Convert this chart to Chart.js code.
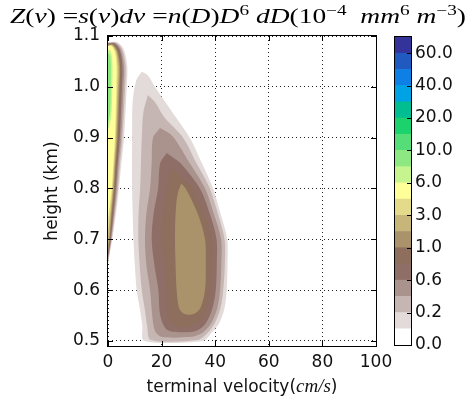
<!DOCTYPE html>
<html>
<head>
<meta charset="utf-8">
<script src="https://cdn.jsdelivr.net/npm/chart.js@4.4.1/dist/chart.umd.min.js"></script>
<style>
html,body{margin:0;padding:0;background:#fff;}
#wrap{position:relative;width:472px;height:399px;}
#wrap canvas{position:absolute;left:0;top:0;}
</style>
</head>
<body>
<div id="wrap">
<canvas id="main" width="472" height="399"></canvas>
<canvas id="cbar" width="472" height="399"></canvas>
</div>
<script>
/* ---- data ---- */

// contour levels (colorbar boundaries)
const levels = [0, 0.1, 0.2, 0.4, 0.6, 0.8, 1, 2, 3, 4, 6, 8, 10, 15, 20, 30, 40, 50, 60, 70];

// one colour per band (terrain_r look)
const bandColors = [
  "#ffffff", "#e3dbd9", "#c6b6b3", "#aa928d", "#8e6e67", "#8e6e5c", "#aa926b",
  "#c6b67a", "#e3db8a", "#ffff99", "#c6f48e", "#8ee882", "#55dd77", "#1cd26c",
  "#00be91", "#00a2e6", "#0d7fe5", "#2059bf", "#333399"
];

const xTicks = [0, 20, 40, 60, 80, 100];
const yTicks = [0.5, 0.6, 0.7, 0.8, 0.9, 1.0, 1.1];
const cbTickIdx = [0, 2, 4, 6, 8, 10, 12, 14, 16, 18];

// contour outlines [velocity cm/s, height km]
// main blob
const blob01 = [[12.6,1.03],[15,1.022],[17.5,1.0],[24,0.95],[30.5,0.9],[35,0.85],[39.2,0.8],[42,0.75],[44.5,0.7],[44.6,0.65],[44.3,0.6],[43.5,0.565],[41.5,0.535],[38.5,0.515],[35.5,0.5],[13.5,0.5],[12.8,0.53],[12,0.56],[10.7,0.6],[10,0.65],[9.5,0.7],[9.2,0.75],[9,0.8],[9,0.9],[9.2,0.97],[10.5,1.012],[12.6,1.03]];
const blob02 = [[14.9,0.984],[17.5,0.97],[21,0.94],[28,0.9],[33,0.85],[38,0.8],[41,0.75],[43.5,0.7],[43.6,0.65],[43,0.6],[42,0.565],[39.8,0.535],[36.5,0.512],[33.5,0.502],[16,0.502],[14.6,0.53],[13.8,0.56],[12.6,0.6],[11.8,0.65],[11.3,0.7],[11.4,0.75],[12,0.8],[12.3,0.85],[12.6,0.9],[13.2,0.95],[14.9,0.984]];
const blob04 = [[19.4,0.919],[21.8,0.912],[24.6,0.9],[30.5,0.85],[36.2,0.8],[39.5,0.75],[42.2,0.7],[42.3,0.65],[41.8,0.6],[40.8,0.565],[38.5,0.535],[35,0.515],[31,0.508],[20,0.508],[17.5,0.52],[16.5,0.55],[15.7,0.6],[14.3,0.65],[13.8,0.7],[14.3,0.75],[15.7,0.8],[16.3,0.85],[16.8,0.9],[19.4,0.919]];
const blob06 = [[21.9,0.87],[24,0.862],[27,0.85],[34.3,0.8],[38,0.75],[40.5,0.7],[40.6,0.65],[40.2,0.6],[39,0.565],[36.5,0.535],[33,0.52],[28,0.517],[22,0.522],[19.5,0.55],[18.8,0.6],[17.3,0.65],[16.3,0.7],[17,0.75],[18.7,0.8],[19.5,0.85],[21.9,0.87]];
const blob08 = [[24,0.84],[26,0.83],[31.7,0.8],[36,0.75],[38.8,0.7],[38.9,0.65],[38.4,0.6],[37,0.565],[34.5,0.54],[31,0.528],[26,0.528],[22.5,0.545],[21.9,0.6],[21,0.65],[20,0.7],[20.5,0.75],[22,0.8],[22.8,0.825],[24,0.84]];
const blob1 = [[27.3,0.81],[29,0.8],[33.5,0.75],[36.2,0.7],[36.5,0.65],[36.2,0.6],[34.5,0.565],[32,0.553],[28.5,0.553],[26.5,0.565],[25.6,0.6],[25.2,0.65],[25,0.7],[25.2,0.75],[26,0.79],[27.3,0.81]];

// thin strip at v ~ 0
const strip01 = [[0,1.088],[3.2,1.088],[5.8,1.075],[7.2,1.04],[7.0,1.0],[6.0,0.9],[5.0,0.85],[4.1,0.8],[3.0,0.75],[1.6,0.7],[0.6,0.67],[0,0.65]];
const strip02 = [[0,1.087],[3.0,1.087],[5.3,1.074],[6.6,1.04],[6.4,1.0],[5.4,0.9],[4.5,0.85],[3.7,0.8],[2.6,0.75],[1.4,0.7],[0,0.655]];
const strip04 = [[0,1.086],[2.7,1.086],[4.8,1.073],[6.0,1.04],[5.8,1.0],[4.9,0.9],[4.0,0.85],[3.3,0.8],[2.3,0.75],[1.2,0.7],[0,0.66]];
const strip06 = [[0,1.085],[2.4,1.085],[4.4,1.072],[5.4,1.04],[5.2,1.0],[4.4,0.9],[3.6,0.85],[2.9,0.8],[2.0,0.75],[1.0,0.7],[0,0.665]];
const strip08 = [[0,1.084],[2.2,1.084],[4.0,1.071],[4.9,1.04],[4.7,1.0],[4.0,0.9],[3.2,0.85],[2.6,0.8],[1.7,0.75],[0.8,0.7],[0,0.67]];
const strip1 = [[0,1.083],[2.0,1.083],[3.6,1.07],[4.5,1.04],[4.3,1.0],[3.6,0.9],[2.9,0.85],[2.3,0.8],[1.4,0.75],[0.6,0.7],[0,0.675]];
const strip2 = [[0,1.082],[1.8,1.082],[3.3,1.069],[4.1,1.04],[3.9,1.0],[3.2,0.9],[2.6,0.85],[2.0,0.8],[1.1,0.75],[0.4,0.7],[0,0.69]];
const strip3 = [[0,1.081],[1.6,1.081],[3.0,1.068],[3.6,1.04],[3.5,1.0],[2.9,0.9],[2.3,0.85],[1.7,0.8],[0.8,0.75],[0,0.71]];
const strip4 = [[0,1.08],[1.4,1.08],[2.7,1.066],[3.2,1.04],[3.1,1.0],[2.6,0.9],[2.0,0.85],[1.4,0.8],[0.5,0.76],[0,0.74]];
const strip6 = [[0,1.072],[0.8,1.072],[1.5,1.058],[1.7,1.03],[1.6,1.0],[1.2,0.94],[0,0.915]];
const strip8 = [[0,1.065],[0.6,1.065],[1.0,1.05],[1.1,1.03],[1.0,1.0],[0.8,0.95],[0,0.93]];

const contours = [
  {level: 0.1, pts: blob01}, {level: 0.2, pts: blob02}, {level: 0.4, pts: blob04},
  {level: 0.6, pts: blob06}, {level: 0.8, pts: blob08}, {level: 1, pts: blob1},
  {level: 0.1, pts: strip01}, {level: 0.2, pts: strip02}, {level: 0.4, pts: strip04},
  {level: 0.6, pts: strip06}, {level: 0.8, pts: strip08}, {level: 1, pts: strip1},
  {level: 2, pts: strip2}, {level: 3, pts: strip3}, {level: 4, pts: strip4},
  {level: 6, pts: strip6}, {level: 8, pts: strip8}
];

// title pieces: [text, style]  i = italic, r = roman, s = superscript
const titleParts = [
  ["Z","i"],["(","r"],["v","i"],[")","r"],[" =","r"],["s","i"],["(","r"],["v","i"],[")","r"],
  ["dv","i"],[" =","r"],["n","i"],["(","r"],["D","i"],[")","r"],["D","i"],["6","s"],
  [" ","r"],["dD","i"],["(10","r"],["\u22124","s"],["  ","r"],["mm","i"],["6","s"],
  [" ","r"],["m","i"],["\u22123","s"],[")","r"]
];

// x axis label pieces
const xLabelParts = [["terminal velocity(", "r"], ["cm/s", "i"], [")", "r"]];

/* ---- styles ---- */

const tickFont = {family: "DejaVu Sans", size: 17};
const textColor = "#111";
const serif = '"Liberation Serif", "DejaVu Serif", serif';

/* ---- plugins ---- */

const framePlugin = {
  id: "frame",
  afterDraw(chart){
    const {ctx, chartArea: a, scales} = chart;
    const isMain = chart.canvas.id === "main";
    ctx.save();
    ctx.strokeStyle = "#000";
    ctx.lineWidth = 1;
    ctx.beginPath();
    if (isMain){
      scales.x.ticks.forEach(t => {
        const p = Math.round(scales.x.getPixelForValue(t.value)) + 0.5;
        ctx.moveTo(p, a.bottom); ctx.lineTo(p, a.bottom - 5);
        ctx.moveTo(p, a.top); ctx.lineTo(p, a.top + 5);
      });
    }
    scales.y.ticks.forEach(t => {
      const p = Math.round(scales.y.getPixelForValue(t.value)) + 0.5;
      if (isMain){
        ctx.moveTo(a.left, p); ctx.lineTo(a.left + 5, p);
      }
      ctx.moveTo(a.right, p); ctx.lineTo(a.right - (isMain ? 5 : 4), p);
    });
    ctx.stroke();
    ctx.strokeRect(Math.round(a.left) - 0.5, Math.round(a.top) - 0.5, Math.round(a.width) + 1, Math.round(a.height) + 1);
    ctx.restore();
  }
};

function drawParts(ctx, parts, fontFor, cx, y, targetW){
  let w = 0;
  parts.forEach(p => { ctx.font = fontFor(p[1]); w += ctx.measureText(p[0]).width; });
  const k = targetW ? targetW / w : 1;
  let x = cx - w * k / 2;
  parts.forEach(p => {
    ctx.font = fontFor(p[1]);
    const tw = ctx.measureText(p[0]).width * k;
    ctx.save();
    ctx.translate(x, p[1] === "s" ? y - 8 : y);
    ctx.scale(k, 1);
    ctx.fillText(p[0], 0, 0);
    ctx.restore();
    x += tw;
  });
}

const textPlugin = {
  id: "mathText",
  afterDraw(chart){
    const ctx = chart.ctx;
    const a = chart.chartArea;
    ctx.save();
    ctx.textBaseline = "alphabetic";
    ctx.fillStyle = "#000";
    drawParts(ctx, titleParts, s => s === "i" ? "italic 20px " + serif
                                  : s === "s" ? "14px " + serif
                                  : "20px " + serif, 238, 23, 456);
    ctx.fillStyle = textColor;
    drawParts(ctx, xLabelParts, s => s === "i" ? "italic 19px " + serif
                                   : "17px DejaVu Sans", (a.left + a.right) / 2, 392);
    ctx.restore();
  }
};

/* ---- main contour chart ---- */

new Chart(document.getElementById("main"), {
  type: "line",
  data: {
    datasets: contours.map(c => {
      const li = levels.indexOf(c.level);
      return {
        data: c.pts.map(p => ({x: p[0], y: p[1]})),
        backgroundColor: bandColors[li],
        borderWidth: 0,
        pointRadius: 0,
        fill: "shape",
        tension: 0.3,
        order: -li
      };
    })
  },
  options: {
    responsive: false,
    animation: false,
    events: [],
    layout: {padding: {top: 36, right: 96, left: 0, bottom: 0}},
    plugins: {legend: {display: false}, tooltip: {enabled: false}},
    scales: {
      x: {
        type: "linear", min: 0, max: 100, z: 1,
        afterBuildTicks: s => { s.ticks = xTicks.map(v => ({value: v})); },
        afterFit: s => { s.height = 53; },
        grid: {color: "#222", lineWidth: 1, drawTicks: false},
        border: {display: false, dash: [1, 3]},
        ticks: {font: tickFont, color: textColor, padding: 6, maxRotation: 0, callback: v => String(v)}
      },
      y: {
        type: "linear", min: 0.49, max: 1.1, z: 1,
        afterBuildTicks: s => { s.ticks = yTicks.map(v => ({value: v})); },
        afterFit: s => { s.width = 108; },
        grid: {color: "#222", lineWidth: 1, drawTicks: false},
        border: {display: false, dash: [1, 3]},
        ticks: {font: tickFont, color: textColor, padding: 8, callback: v => v.toFixed(1)},
        title: {display: true, text: "height (km)", font: {family: "DejaVu Sans", size: 17}, color: textColor, padding: {top: 42, bottom: 0}}
      }
    }
  },
  plugins: [framePlugin, textPlugin]
});

/* ---- colorbar ---- */

new Chart(document.getElementById("cbar"), {
  type: "bar",
  data: {
    labels: [""],
    datasets: bandColors.map(c => ({
      data: [1], backgroundColor: c, borderWidth: 0,
      barPercentage: 1, categoryPercentage: 1
    }))
  },
  options: {
    responsive: false,
    animation: false,
    events: [],
    layout: {padding: {left: 395, top: 37, bottom: 54, right: 0}},
    plugins: {legend: {display: false}, tooltip: {enabled: false}},
    scales: {
      x: {stacked: true, display: false},
      y: {
        stacked: true, position: "right", min: 0, max: levels.length - 1,
        afterBuildTicks: s => { s.ticks = cbTickIdx.map(v => ({value: v})); },
        afterFit: s => { s.width = 61; },
        grid: {display: false, drawTicks: false},
        border: {display: false},
        ticks: {font: tickFont, color: textColor, padding: 4, callback: v => levels[v].toFixed(1)}
      }
    }
  },
  plugins: [framePlugin]
});
</script>
</body>
</html>
